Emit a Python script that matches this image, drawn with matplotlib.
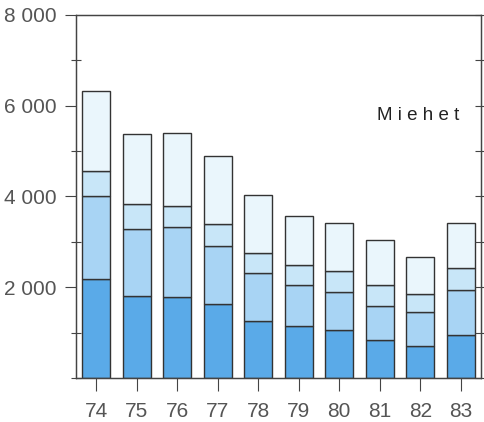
import matplotlib.pyplot as plt
from matplotlib.ticker import MultipleLocator

years = ["74", "75", "76", "77", "78", "79", "80", "81", "82", "83"]
seg1 = [2180, 1810, 1780, 1630, 1260, 1140, 1050, 830, 710, 955]
seg2 = [1820, 1480, 1540, 1270, 1050, 920, 850, 760, 750, 990]
seg3 = [560, 540, 480, 490, 440, 430, 460, 460, 380, 480]
seg4 = [1760, 1540, 1610, 1500, 1280, 1090, 1060, 980, 830, 990]
yticks = [2000, 4000, 6000, 8000]
ytick_labels = ["2 000", "4 000", "6 000", "8 000"]

colors = ["#5aaae8", "#a8d4f4", "#c8e6f8", "#eaf6fc"]
font = ["Liberation Sans", "DejaVu Sans"]
tc = "#555555"

fig = plt.figure(figsize=(4.85, 4.22), dpi=100)
ax = fig.add_axes([0.1567, 0.1043, 0.8351, 0.8602])

x = list(range(len(years)))
bottom = [0] * len(years)
for seg, c in zip([seg1, seg2, seg3, seg4], colors):
    ax.bar(x, seg, bottom=bottom, width=0.69, color=c, edgecolor="#333333", linewidth=1.0)
    bottom = [b + s for b, s in zip(bottom, seg)]

ax.set_xlim(-0.5, 9.5)
ax.set_ylim(0, 8000)

ax.set_xticks(x)
ax.set_xticklabels(years, family=font, fontsize=15, color=tc)
ax.set_yticks(yticks)
ax.set_yticklabels(ytick_labels, family=font, fontsize=15, color=tc)
ax.yaxis.set_minor_locator(MultipleLocator(1000))

ax.tick_params(axis="x", direction="out", length=9, width=0.8, color="#444444", pad=8)
ax.tick_params(axis="y", which="major", direction="out", length=8, width=0.8, color="#444444", pad=6)
ax.tick_params(axis="y", which="minor", direction="inout", length=7, width=0.8, color="#444444")

# right-hand axis ticks crossing the spine
ax2 = ax.twinx()
ax2.set_ylim(0, 8000)
ax2.yaxis.set_major_locator(MultipleLocator(1000))
ax2.tick_params(axis="y", direction="inout", length=8, width=0.8, color="#444444", labelright=False)

for a in (ax, ax2):
    for s in a.spines.values():
        s.set_color("#444444")
        s.set_linewidth(0.9)

ax.text(0.845, 0.722, "M i e h e t", transform=ax.transAxes, family=font, fontsize=13.5,
        color="#222222", ha="center", va="center")

fig.savefig("out.png", dpi=100)
